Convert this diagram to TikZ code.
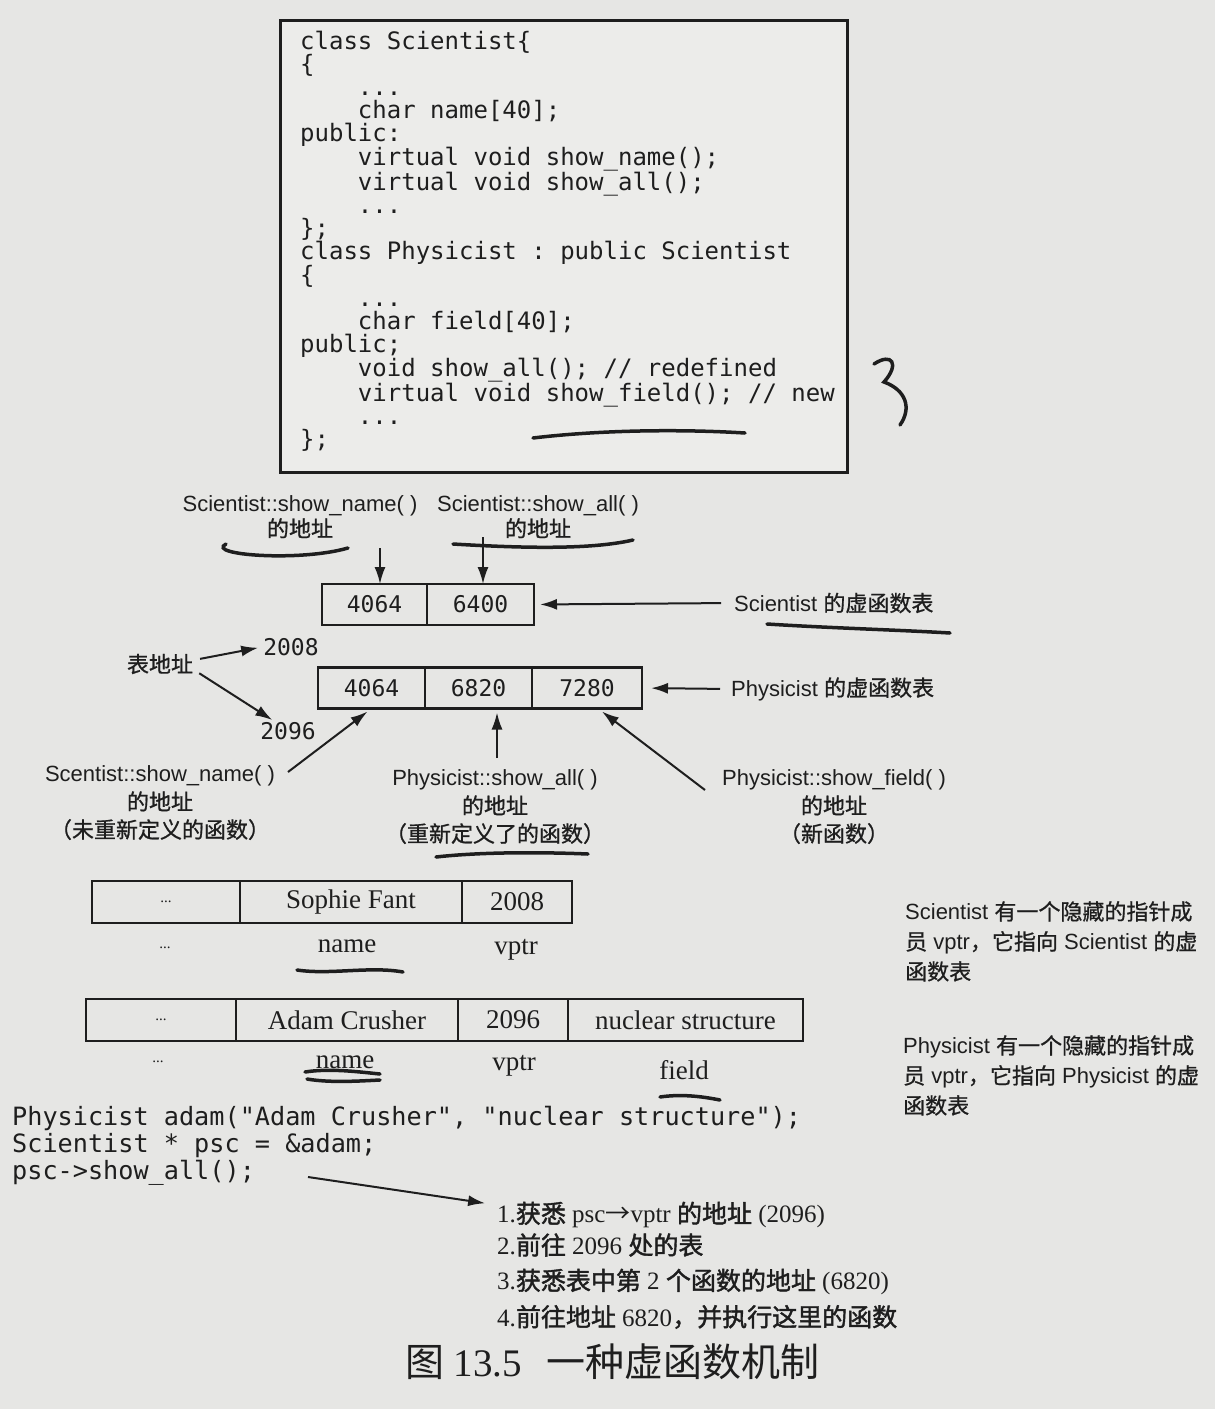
\documentclass[tikz,border=0pt]{standalone}
\usepackage{fontspec}
\setmainfont{Liberation Serif}
\setsansfont{Liberation Sans}
\setmonofont{DejaVu Sans Mono}
\newfontfamily\cjk{Noto Sans CJK SC}
\newfontfamily\cjkm{Noto Sans CJK SC}[FakeBold=0.8]
\newfontfamily\cjkb{Noto Sans CJK SC}[FakeBold=1.6]
\usetikzlibrary{arrows.meta}

\definecolor{ink}{HTML}{1E1E1E}
\definecolor{paper}{HTML}{E6E6E4}
\definecolor{boxbg}{HTML}{ECECEA}

\newcommand{\zh}[1]{{\cjkm #1}}
\newcommand{\zhb}[1]{{\cjkb #1}}
\newcommand{\ind}{\phantom{xxxx}}

\tikzset{
  frame/.style={draw=ink, fill=boxbg, line width=3pt},
  srccode/.style={anchor=north west, inner sep=0pt, align=left, text=ink,
    font=\fontsize{24}{22.9}\selectfont\ttfamily},
  lbl/.style={inner sep=1pt, align=center, text=ink,
    font=\fontsize{22}{28}\selectfont\sffamily},
  num/.style={inner sep=1pt, text=ink, font=\fontsize{23}{23}\selectfont\ttfamily},
  cell/.style={draw=ink, line width=2.5pt, inner sep=0pt, outer sep=0pt,
    minimum height=41pt, text=ink, font=\fontsize{23}{23}\selectfont\ttfamily},
  ocell/.style={draw=ink, line width=2.5pt, inner sep=0pt, outer sep=0pt,
    minimum height=42pt, text=ink, font=\fontsize{27}{27}\selectfont\rmfamily},
  field/.style={inner sep=1pt, text=ink, font=\fontsize{27}{27}\selectfont\rmfamily},
  sidenote/.style={anchor=north west, inner sep=0pt, align=left, text=ink,
    font=\fontsize{22}{30}\selectfont\sffamily},
  stepline/.style={anchor=west, inner sep=0pt, text=ink,
    font=\fontsize{25}{25}\selectfont\rmfamily},
  arr/.style={->, draw=ink, line width=2pt},
  handmark/.style={draw=ink, line width=3.5pt, line cap=round}
}

\begin{document}
\begin{tikzpicture}[x=1pt, y=-1pt, >={Latex[length=17pt,width=11pt]}]

  % page
  \fill[paper] (0,0) rectangle (1215,1409);
  \useasboundingbox (0,0) rectangle (1215,1409);

  % class listing
  \draw[frame] (280,20) rectangle (847,472);
  \node[srccode] (classes) at (300,31) {%
    class Scientist\{\\
    \{\\
    \ind ...\\
    \ind char name[40];\\
    public:\\
    \ind virtual void show\_name();\\
    \ind virtual void show\_all();\\
    \ind ...\\
    \};\\
    class Physicist : public Scientist\\
    \{\\
    \ind ...\\
    \ind char field[40];\\
    public;\\
    \ind void show\_all(); // redefined\\
    \ind virtual void show\_field(); // new\\
    \ind ...\\
    \};};

  % Scientist vtable
  \node[cell, minimum width=105pt] (sv1) at (374.5,604.5) {4064};
  \node[cell, minimum width=107pt] (sv2) at (480.5,604.5) {6400};
  \node[lbl, anchor=west] (stbl) at (733,603) {Scientist \zh{的虚函数表}};

  % Physicist vtable
  \node[cell, minimum width=107pt] (pv1) at (371.5,688) {4064};
  \node[cell, minimum width=107pt] (pv2) at (478.5,688) {6820};
  \node[cell, minimum width=110pt] (pv3) at (587,688) {7280};
  \node[lbl, anchor=west] (ptbl) at (730,689) {Physicist \zh{的虚函数表}};

  % address labels
  \node[lbl, font=\fontsize{22}{25}\selectfont\sffamily] (snAddr) at (300,517) {Scientist::show\_name( )\\\zh{的地址}};
  \node[lbl, font=\fontsize{22}{25}\selectfont\sffamily] (saAddr) at (538,517) {Scientist::show\_all( )\\\zh{的地址}};
  \node[lbl] (pnAddr) at (160,803) {Scentist::show\_name( )\\\zh{的地址}\\\zh{（未重新定义的函数）}};
  \node[lbl] (paAddr) at (495,807) {Physicist::show\_all( )\\\zh{的地址}\\\zh{（重新定义了的函数）}};
  \node[lbl] (pfAddr) at (834,807) {Physicist::show\_field( )\\\zh{的地址}\\\zh{（新函数）}};

  \node[lbl] (tblAddr) at (160,664) {\zh{表地址}};
  \node[num] (a2008) at (291,647) {2008};
  \node[num] (a2096) at (288,731) {2096};

  % arrow tails
  \coordinate (snTail) at (380,548);
  \coordinate (saTail) at (483,537);
  \coordinate (pnTail) at (288,772);
  \coordinate (paTail) at (497,758);
  \coordinate (pfTail) at (705,790);
  \coordinate (runTail) at (308,1177);

  % arrows
  \draw[arr] (snTail) -- (snTail |- sv1.north);
  \draw[arr] (saTail) -- (saTail |- sv2.north);
  \draw[arr, shorten <=12pt, shorten >=6pt] (stbl.west) -- (sv2.east);
  \draw[arr, shorten <=10pt, shorten >=9pt] (ptbl.west) -- (pv3.east);
  \draw[arr, shorten <=6pt, shorten >=4pt] ([yshift=4pt]tblAddr.east) -- (a2008.west);
  \draw[arr, shorten <=6pt, shorten >=2pt] ([yshift=-6pt]tblAddr.east) -- ([xshift=-14pt]a2096.north);
  \draw[arr, shorten >=5pt] (pnTail) -- (pv1.south);
  \draw[arr, shorten >=4pt] (paTail) -- (paTail |- pv2.south);
  \draw[arr, shorten >=5pt] (pfTail) -- ([xshift=11pt]pv3.south);

  % Sophie object
  \node[ocell, minimum width=148pt] (sf1) at (166,902) {\fontsize{15}{15}\selectfont...};
  \node[ocell, minimum width=222pt] (sf2) at (351,902) {Sophie Fant};
  \node[ocell, minimum width=110pt] (sf3) at (517,902) {2008};
  \node[field, font=\fontsize{15}{15}\selectfont] (sfDots) at (165,948) {...};
  \node[field] (sfName) at (347,946) {name};
  \node[field] (sfVptr) at (516,950) {vptr};

  % Adam object
  \node[ocell, minimum width=150pt] (ac1) at (161,1020) {\fontsize{15}{15}\selectfont...};
  \node[ocell, minimum width=222pt] (ac2) at (347,1020) {Adam Crusher};
  \node[ocell, minimum width=110pt] (ac3) at (513,1020) {2096};
  \node[ocell, minimum width=235pt] (ac4) at (685.5,1020) {nuclear structure};
  \node[field, font=\fontsize{15}{15}\selectfont] (acDots) at (158,1062) {...};
  \node[field] (acName) at (345,1062) {name};
  \node[field] (acVptr) at (514,1066) {vptr};
  \node[field] (acField) at (684,1070) {field};

  % side notes
  \node[sidenote] (sciNote) at (905,901) {Scientist \zh{有一个隐藏的指针成}\\\zh{员} vptr\zh{，它指向} Scientist \zh{的虚}\\\zh{函数表}};
  \node[sidenote] (phyNote) at (903,1035) {Physicist \zh{有一个隐藏的指针成}\\\zh{员} vptr\zh{，它指向} Physicist \zh{的虚}\\\zh{函数表}};

  % call code
  \node[srccode, font=\fontsize{25.2}{27}\selectfont\ttfamily] (demo) at (12,1106) {%
    Physicist adam("Adam Crusher", "nuclear structure");\\
    Scientist * psc = \&adam;\\
    psc->show\_all();};

  % steps
  \node[stepline] (st1) at (497,1215) {1.\zhb{获悉} psc{\cjk →}vptr \zhb{的地址} (2096)};
  \node[stepline] (st2) at (497,1245) {2.\zhb{前往} 2096 \zhb{处的表}};
  \node[stepline] (st3) at (497,1282) {3.\zhb{获悉表中第} 2 \zhb{个函数的地址} (6820)};
  \node[stepline] (st4) at (497,1317) {4.\zhb{前往地址} 6820\zhb{，并执行这里的函数}};
  \draw[arr, shorten >=12pt] (runTail) -- ([yshift=10pt]st1.west);

  % caption
  \node[inner sep=0pt, text=ink, font=\fontsize{39}{39}\selectfont\rmfamily] (caption) at (612,1362) {{\cjk 图} 13.5\hspace{24pt}{\cjk 一种虚函数机制}};

  % pen marks
  \draw[handmark] (533,438) .. controls (600,430) and (680,429) .. (745,433);
  \draw[handmark] (874,364) .. controls (892,352) and (900,364) .. (884,382) .. controls (906,390) and (912,408) .. (900,425);
  \draw[handmark] (226,544) .. controls (205,555) and (300,562) .. (348,548);
  \draw[handmark] (453,544) .. controls (520,548) and (590,550) .. (633,540);
  \draw[handmark] (767,624) .. controls (830,628) and (900,630) .. (950,633);
  \draw[handmark] (436,857) .. controls (480,852) and (540,852) .. (588,854);
  \draw[handmark] (297,970) .. controls (330,975) and (370,966) .. (403,972);
  \draw[handmark] (305,1072) .. controls (330,1068) and (360,1072) .. (380,1074);
  \draw[handmark] (307,1079) .. controls (330,1083) and (360,1081) .. (380,1080);
  \draw[handmark] (660,1097) .. controls (680,1094) and (700,1096) .. (720,1100);

\end{tikzpicture}
\end{document}
